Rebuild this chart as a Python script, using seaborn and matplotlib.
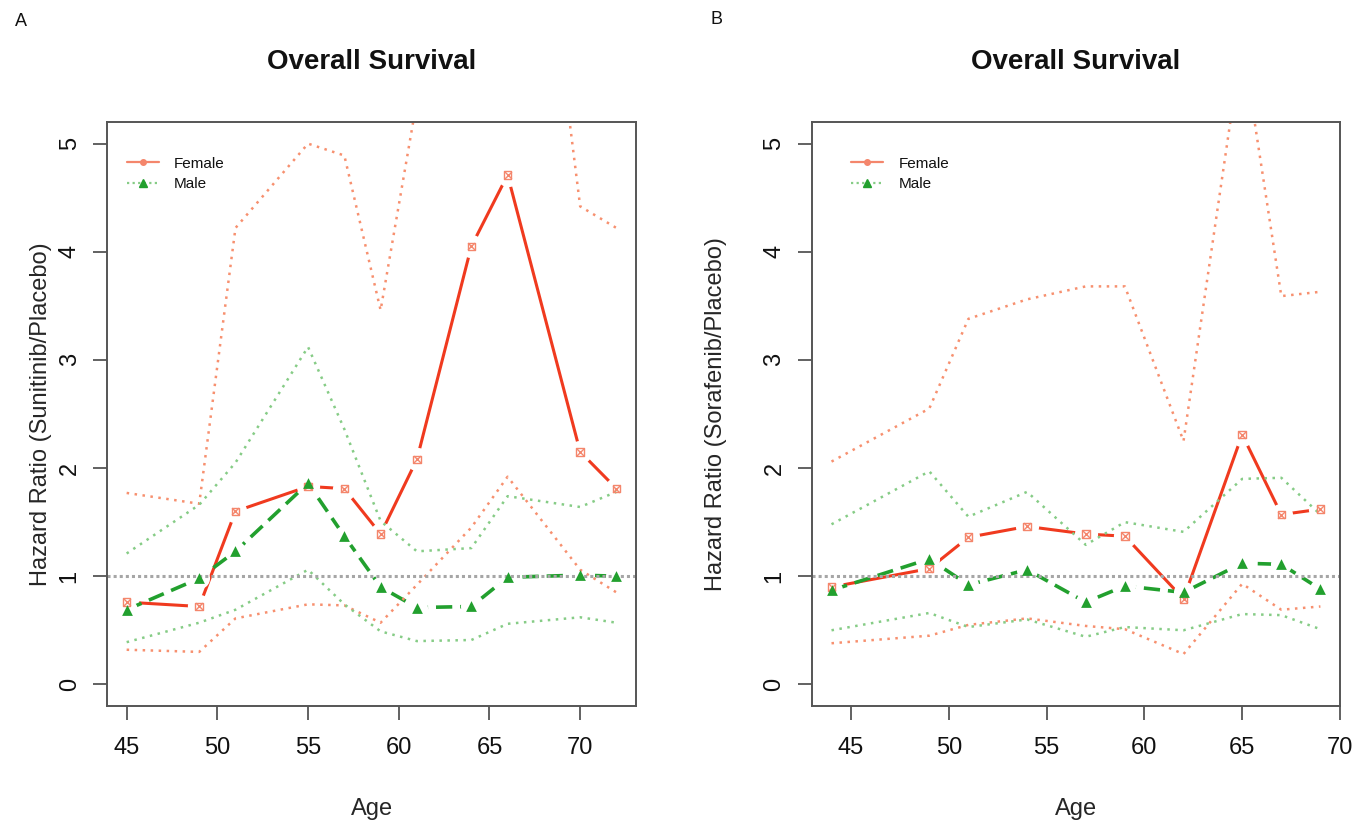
import matplotlib
matplotlib.use("Agg")
import matplotlib.pyplot as plt
from matplotlib.lines import Line2D
import seaborn as sns

# Panel A: sunitinib
age_a = [45, 49, 51, 55, 57, 59, 61, 64, 66, 70, 72]
fem_hr_a = [0.76, 0.72, 1.60, 1.83, 1.81, 1.39, 2.08, 4.05, 4.71, 2.15, 1.81]
fem_hi_a = [1.77, 1.67, 4.22, 5.00, 4.89, 3.46, 5.40, 9.00, 9.80, 4.42, 4.22]
fem_lo_a = [0.32, 0.30, 0.61, 0.74, 0.73, 0.57, 0.92, 1.45, 1.92, 1.06, 0.85]
male_hr_a = [0.69, 0.98, 1.23, 1.86, 1.37, 0.90, 0.71, 0.72, 0.99, 1.01, 1.00]
male_hi_a = [1.21, 1.66, 2.05, 3.12, 2.36, 1.51, 1.23, 1.26, 1.74, 1.64, 1.78]
male_lo_a = [0.39, 0.57, 0.69, 1.06, 0.74, 0.49, 0.40, 0.41, 0.56, 0.62, 0.57]

# Panel B: sorafenib
age_b = [44, 49, 51, 54, 57, 59, 62, 65, 67, 69]
fem_hr_b = [0.90, 1.07, 1.36, 1.46, 1.39, 1.37, 0.79, 2.31, 1.57, 1.62]
fem_hi_b = [2.06, 2.55, 3.38, 3.56, 3.68, 3.68, 2.25, 5.95, 3.59, 3.63]
fem_lo_b = [0.38, 0.45, 0.55, 0.61, 0.54, 0.51, 0.28, 0.93, 0.69, 0.72]
male_hr_b = [0.87, 1.16, 0.92, 1.06, 0.76, 0.91, 0.85, 1.12, 1.11, 0.88]
male_hi_b = [1.48, 1.97, 1.55, 1.78, 1.29, 1.50, 1.41, 1.90, 1.91, 1.57]
male_lo_b = [0.50, 0.66, 0.53, 0.60, 0.44, 0.53, 0.50, 0.65, 0.64, 0.51]

x_ticks = [45, 50, 55, 60, 65, 70]
y_ticks = [0, 1, 2, 3, 4, 5]

FEM_LINE = "#f03a1f"
FEM_MARK = "#f4866c"
FEM_CI = "#f7906f"
MALE_LINE = "#22a02e"
MALE_CI = "#86cc86"
FRAME = "#555555"

sns.set_style("white")
plt.rcParams["font.family"] = ["Liberation Sans", "DejaVu Sans"]
plt.rcParams["text.color"] = "#111111"


def draw_panel(ax, age, f_hr, f_lo, f_hi, m_hr, m_lo, m_hi, ylab, xlim, ylab_x):
    # main estimates, R type="b" style (gaps around the points)
    sns.lineplot(x=age, y=f_hr, ax=ax, color=FEM_LINE, linewidth=2.2,
                 estimator=None, zorder=2)
    sns.scatterplot(x=age, y=f_hr, ax=ax, color="white", s=280,
                    linewidth=0, zorder=2.1)
    sns.lineplot(x=age, y=m_hr, ax=ax, color=MALE_LINE, linewidth=2.6,
                 linestyle=(0, (4.5, 2.2)), estimator=None, zorder=2.2)
    sns.scatterplot(x=age, y=m_hr, ax=ax, color="white", s=230,
                    linewidth=0, zorder=2.3)

    # confidence bounds
    for vals, col in [(f_hi, FEM_CI), (f_lo, FEM_CI), (m_hi, MALE_CI), (m_lo, MALE_CI)]:
        sns.lineplot(x=age, y=vals, ax=ax, color=col, linewidth=1.8,
                     linestyle=(0, (1, 2.2)), estimator=None, zorder=2.4)

    ax.axhline(1, color="#a6a6a6", lw=2.2, ls=(0, (1, 1)), zorder=2.4)

    # markers
    sns.scatterplot(x=age, y=f_hr, ax=ax, marker="s", s=30, facecolor="none",
                    edgecolor=FEM_MARK, linewidth=1.0, zorder=3)
    sns.scatterplot(x=age, y=f_hr, ax=ax, marker="x", s=24, color=FEM_MARK,
                    linewidth=1.0, zorder=3)
    sns.scatterplot(x=age, y=m_hr, ax=ax, marker="^", s=60, color=MALE_LINE,
                    linewidth=0, zorder=3.1)

    ax.set_xlim(*xlim)
    ax.set_ylim(-0.2, 5.2)
    ax.set_xticks(x_ticks)
    ax.set_yticks(y_ticks)
    ax.tick_params(axis="both", direction="out", length=10, width=1.3,
                   color=FRAME, labelsize=17, labelcolor="#111111",
                   bottom=True, left=True)
    ax.tick_params(axis="x", pad=12)
    ax.tick_params(axis="y", pad=9)
    for lab in ax.get_yticklabels():
        lab.set_rotation(90)
        lab.set_va("center")
    for sp in ax.spines.values():
        sp.set_visible(True)
        sp.set_color(FRAME)
        sp.set_linewidth(1.4)

    ax.set_xlabel("Age", fontsize=17, va="center")
    ax.xaxis.set_label_coords(0.5, -0.176)
    ax.set_ylabel(ylab, fontsize=17, va="center")
    ax.yaxis.set_label_coords(ylab_x, 0.5)
    ax.set_title("Overall Survival", fontsize=20, fontweight="bold", pad=38)

    handles = [
        Line2D([], [], color=FEM_MARK, lw=1.6, marker="o", ms=4,
               mfc=FEM_MARK, mec=FEM_MARK),
        Line2D([], [], color=MALE_CI, lw=1.6, ls=(0, (1, 1.5)), marker="^",
               ms=6, mfc=MALE_LINE, mec=MALE_LINE),
    ]
    ax.legend(handles, ["Female", "Male"], loc="upper left",
              bbox_to_anchor=(45, 4.88), bbox_transform=ax.transData,
              frameon=False, fontsize=11, borderpad=0, borderaxespad=0,
              handlelength=2.1, handletextpad=1.0, labelspacing=0.45)


fig = plt.figure(figsize=(13.69, 8.21), dpi=100)
ax_a = fig.add_axes([0.0782, 0.1401, 0.3864, 0.7113])
ax_b = fig.add_axes([0.5931, 0.1401, 0.3857, 0.7113])

draw_panel(ax_a, age_a, fem_hr_a, fem_lo_a, fem_hi_a, male_hr_a, male_lo_a,
           male_hi_a, "Hazard Ratio (Sunitinib/Placebo)", (43.92, 73.08), -0.125)
draw_panel(ax_b, age_b, fem_hr_b, fem_lo_b, fem_hi_b, male_hr_b, male_lo_b,
           male_hi_b, "Hazard Ratio (Sorafenib/Placebo)", (43.0, 70.0), -0.182)

fig.text(15 / 1369, 1 - 22 / 821, "A", fontsize=13, va="center")
fig.text(710 / 1369, 1 - 20 / 821, "B", fontsize=13, va="center")

plt.savefig("out.png", dpi=100)
